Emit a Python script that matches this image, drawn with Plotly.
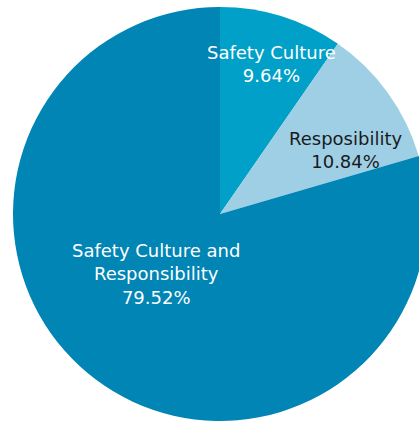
import plotly.graph_objects as go

labels = ["Safety Culture", "Resposibility", "Safety Culture and Responsibility"]
values = [9.64, 10.84, 79.52]
colors = ["#00A0C8", "#9ECFE5", "#0085B5"]
text_colors = ["white", "#1a1a1a", "white"]
display_labels = ["Safety Culture", "Resposibility", "Safety Culture and<br>Responsibility"]

W, H = 460, 460
cx, cy, r = 220, 214, 207

fig = go.Figure(go.Pie(
    labels=labels,
    values=values,
    sort=False,
    direction="clockwise",
    rotation=0,
    marker=dict(colors=colors, line=dict(width=0)),
    textinfo="none",
    hoverinfo="label+percent",
    showlegend=False,
    domain=dict(x=[(cx - r) / W, (cx + r) / W], y=[1 - (cy + r) / H, 1 - (cy - r) / H]),
))

label_pos = [(271, 64), (345, 150), (156, 274)]
for lab, val, col, (px, py) in zip(display_labels, values, text_colors, label_pos):
    fig.add_annotation(
        x=px / W, y=1 - py / H, xref="paper", yref="paper",
        text=f"{lab}<br>{val:.2f}%", showarrow=False,
        font=dict(family="DejaVu Sans", size=18, color=col),
        xanchor="center", yanchor="middle", align="center",
    )

fig.update_layout(
    width=W, height=H,
    margin=dict(l=0, r=0, t=0, b=0),
    paper_bgcolor="white", plot_bgcolor="white",
)

fig.write_html("out.html", post_script="document.body.style.overflow='hidden';document.body.style.margin='0';")
